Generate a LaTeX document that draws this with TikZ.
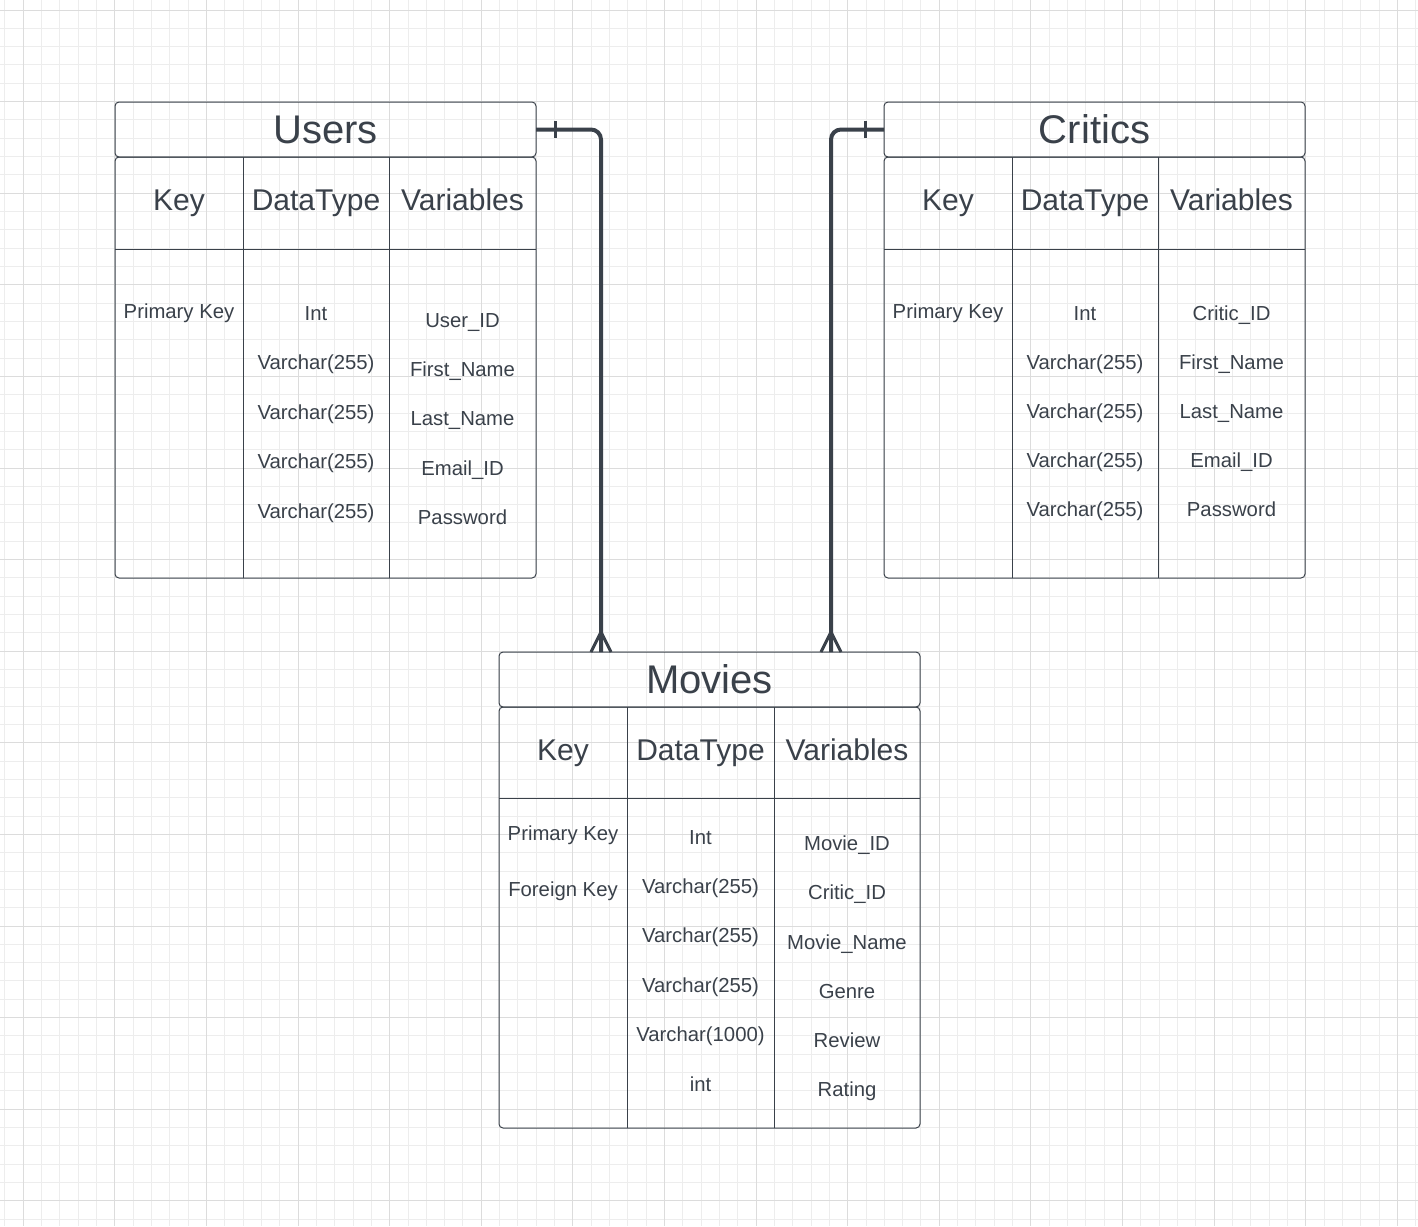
\documentclass[tikz,border=0pt]{standalone}
\usepackage{fontspec}
\setmainfont{Liberation Sans}
\usetikzlibrary{positioning,calc}
\definecolor{ink}{HTML}{3A414A}
\definecolor{gridminor}{HTML}{EDEDED}
\definecolor{gridmajor}{HTML}{DCDCDC}

\begin{document}
\begin{tikzpicture}[x=1pt,y=-1pt,
                    titlebox/.style={draw=ink,line width=1pt,rounded corners=4pt,minimum width=421pt,minimum height=55pt,
                                     inner sep=0pt,outer sep=0pt,text=ink,font=\fontsize{40}{48}\selectfont,text height=28.6pt,text depth=0pt},
                    tablebox/.style={draw=ink,line width=1pt,rounded corners=4pt,minimum width=421pt,minimum height=421pt,
                                     inner sep=0pt,outer sep=0pt},
                    rule/.style={draw=ink,line width=1pt},
                    head/.style={anchor=base,inner sep=0pt,text=ink,font=\fontsize{30}{36}\selectfont},
                    cell/.style={anchor=base,inner sep=0pt,text=ink,font=\fontsize{20.3}{24}\selectfont},
                    rel/.style={draw=ink,line width=4pt},
                    endmark/.style={draw=ink,line width=3pt}]
            \useasboundingbox (0,0) rectangle (1418,1226);
            %Grid
                \fill[white] (0,0) rectangle (1418,1226);
                \foreach \i in {0,...,77}
                    \draw[gridminor,line width=1pt] (4.98+18.32*\i,0) -- (4.98+18.32*\i,1226);
                \foreach \i in {0,...,66}
                    \draw[gridminor,line width=1pt] (0,10+18.32*\i) -- (1418,10+18.32*\i);
                \foreach \i in {0,...,15}
                    \draw[gridmajor,line width=1pt] (23.3+91.6*\i,0) -- (23.3+91.6*\i,1226);
                \foreach \i in {0,...,13}
                    \draw[gridmajor,line width=1pt] (0,10+91.6*\i) -- (1418,10+91.6*\i);

            %Users
                \node[titlebox] (users) at (325.5,129.5) {Users};
                \node[tablebox] (usersT) at (325.5,367.5) {};
                \draw[rule] ($(usersT.north west)+(0,92)$) -- ($(usersT.north east)+(0,92)$);
                \draw[rule] ($(usersT.north west)+(128,0)$) -- ($(usersT.south west)+(128,0)$);
                \draw[rule] ($(usersT.north west)+(274,0)$) -- ($(usersT.south west)+(274,0)$);
                \node[head] (uKey) at (179,210) {Key};
                \node[head] (uType) at (316,210) {DataType};
                \node[head] (uVar) at (462.5,210) {Variables};
                \node[cell] (uK0) at (179,318.3) {Primary Key};
                \foreach \t [count=\i from 0] in {Int,Varchar(255),Varchar(255),Varchar(255),Varchar(255)}
                    \node[cell] (uT\i) at (316,320+49.5*\i) {\t};
                \foreach \t [count=\i from 0] in {User\_ID,First\_Name,Last\_Name,Email\_ID,Password}
                    \node[cell] (uV\i) at (462.5,327.5+49.2*\i) {\t};

            %Critics
                \node[titlebox] (critics) at (1094.5,129.5) {Critics};
                \node[tablebox] (criticsT) at (1094.5,367.5) {};
                \draw[rule] ($(criticsT.north west)+(0,92)$) -- ($(criticsT.north east)+(0,92)$);
                \draw[rule] ($(criticsT.north west)+(128,0)$) -- ($(criticsT.south west)+(128,0)$);
                \draw[rule] ($(criticsT.north west)+(274,0)$) -- ($(criticsT.south west)+(274,0)$);
                \node[head] (cKey) at (948,210) {Key};
                \node[head] (cType) at (1085,210) {DataType};
                \node[head] (cVar) at (1231.5,210) {Variables};
                \node[cell] (cK0) at (948,318.3) {Primary Key};
                \foreach \t [count=\i from 0] in {Int,Varchar(255),Varchar(255),Varchar(255),Varchar(255)}
                    \node[cell] (cT\i) at (1085,320+49.2*\i) {\t};
                \foreach \t [count=\i from 0] in {Critic\_ID,First\_Name,Last\_Name,Email\_ID,Password}
                    \node[cell] (cV\i) at (1231.5,320+49.2*\i) {\t};

            %Movies
                \node[titlebox] (movies) at (709.5,679.5) {Movies};
                \node[tablebox] (moviesT) at (709.5,917.5) {};
                \draw[rule] ($(moviesT.north west)+(0,91)$) -- ($(moviesT.north east)+(0,91)$);
                \draw[rule] ($(moviesT.north west)+(128,0)$) -- ($(moviesT.south west)+(128,0)$);
                \draw[rule] ($(moviesT.north west)+(275,0)$) -- ($(moviesT.south west)+(275,0)$);
                \node[head] (mKey) at (563,760) {Key};
                \node[head] (mType) at (700.5,760) {DataType};
                \node[head] (mVar) at (847,760) {Variables};
                \node[cell] (mK0) at (563,840.7) {Primary Key};
                \node[cell] (mK1) at (563,896) {Foreign Key};
                \foreach \t [count=\i from 0] in {Int,Varchar(255),Varchar(255),Varchar(255),Varchar(1000),int}
                    \node[cell] (mT\i) at (700.5,844+49.4*\i) {\t};
                \foreach \t [count=\i from 0] in {Movie\_ID,Critic\_ID,Movie\_Name,Genre,Review,Rating}
                    \node[cell] (mV\i) at (847,850.7+49.2*\i) {\t};

            %Lines
                \coordinate (mU) at ($(movies.north west)+(102,0)$);
                \coordinate (mC) at ($(movies.north west)+(332,0)$);
                \draw[rel,rounded corners=10pt] (users.east) -| (mU);
                \draw[rel,rounded corners=10pt] (critics.west) -| (mC);
                \draw[endmark] ($(users.east)+(19,-8.5)$) -- ($(users.east)+(19,8.5)$);
                \draw[endmark] ($(critics.west)+(-19,-8.5)$) -- ($(critics.west)+(-19,8.5)$);
                \draw[endmark] ($(mU)+(-10,0)$) -- ($(mU)+(0,-20)$) -- ($(mU)+(10,0)$);
                \draw[endmark] ($(mC)+(-10,0)$) -- ($(mC)+(0,-20)$) -- ($(mC)+(10,0)$);
            \end{tikzpicture}
\end{document}
